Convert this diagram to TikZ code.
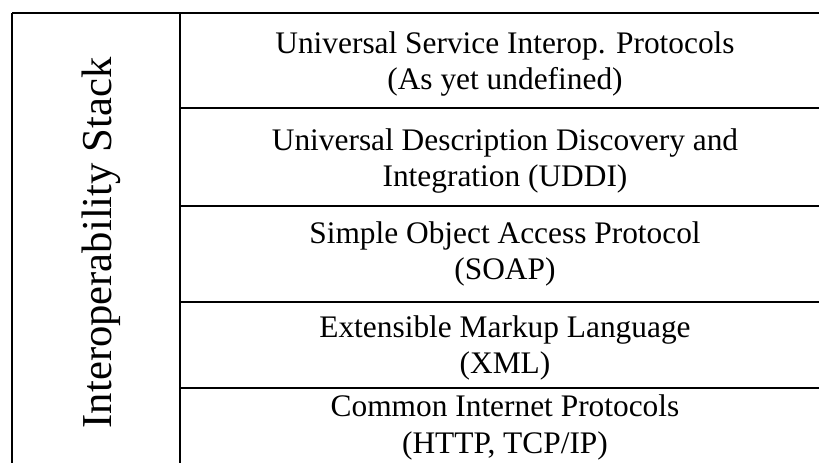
\documentclass[tikz,border=0pt]{standalone}
\usepackage{fontspec}
\setmainfont{Liberation Serif}
\usetikzlibrary{positioning}

\begin{document}
\begin{tikzpicture}[x=1bp,y=-1bp,
	layer/.style={align=center,anchor=base,inner sep=0pt,font=\fontsize{31.5}{37}\selectfont}]
	\useasboundingbox (0,0) rectangle (819,463);
	\clip (0,0) rectangle (819,463);
	\fill[white] (0,0) rectangle (819,463);
			\begin{scope}[line width=2bp]
			\draw (12,13)--(830,13);
			\draw (12,13)--(12,480);
			\draw (180,13)--(180,480);
				\foreach \y in {108,206,302,388}
				\draw (180,\y)--(830,\y);
			\end{scope}

			\node[rotate=90,anchor=base,inner sep=0pt,font=\fontsize{42.8}{50}\selectfont] (stack) at (111,243) {Interoperability Stack};

			% anchor=base sits on the last line
			\node[layer] (usip) at (505,90) {Universal Service Interop. Protocols\\(As yet undefined)};
			\node[layer] (uddi) at (505,187) {Universal Description Discovery and\\Integration (UDDI)};
			\node[layer] (soap) at (505,280) {Simple Object Access Protocol\\(SOAP)};
			\node[layer] (xml) at (505,374) {Extensible Markup Language\\(XML)};
			\node[layer] (cip) at (505,453) {Common Internet Protocols\\(HTTP, TCP/IP)};
\end{tikzpicture}
\end{document}
